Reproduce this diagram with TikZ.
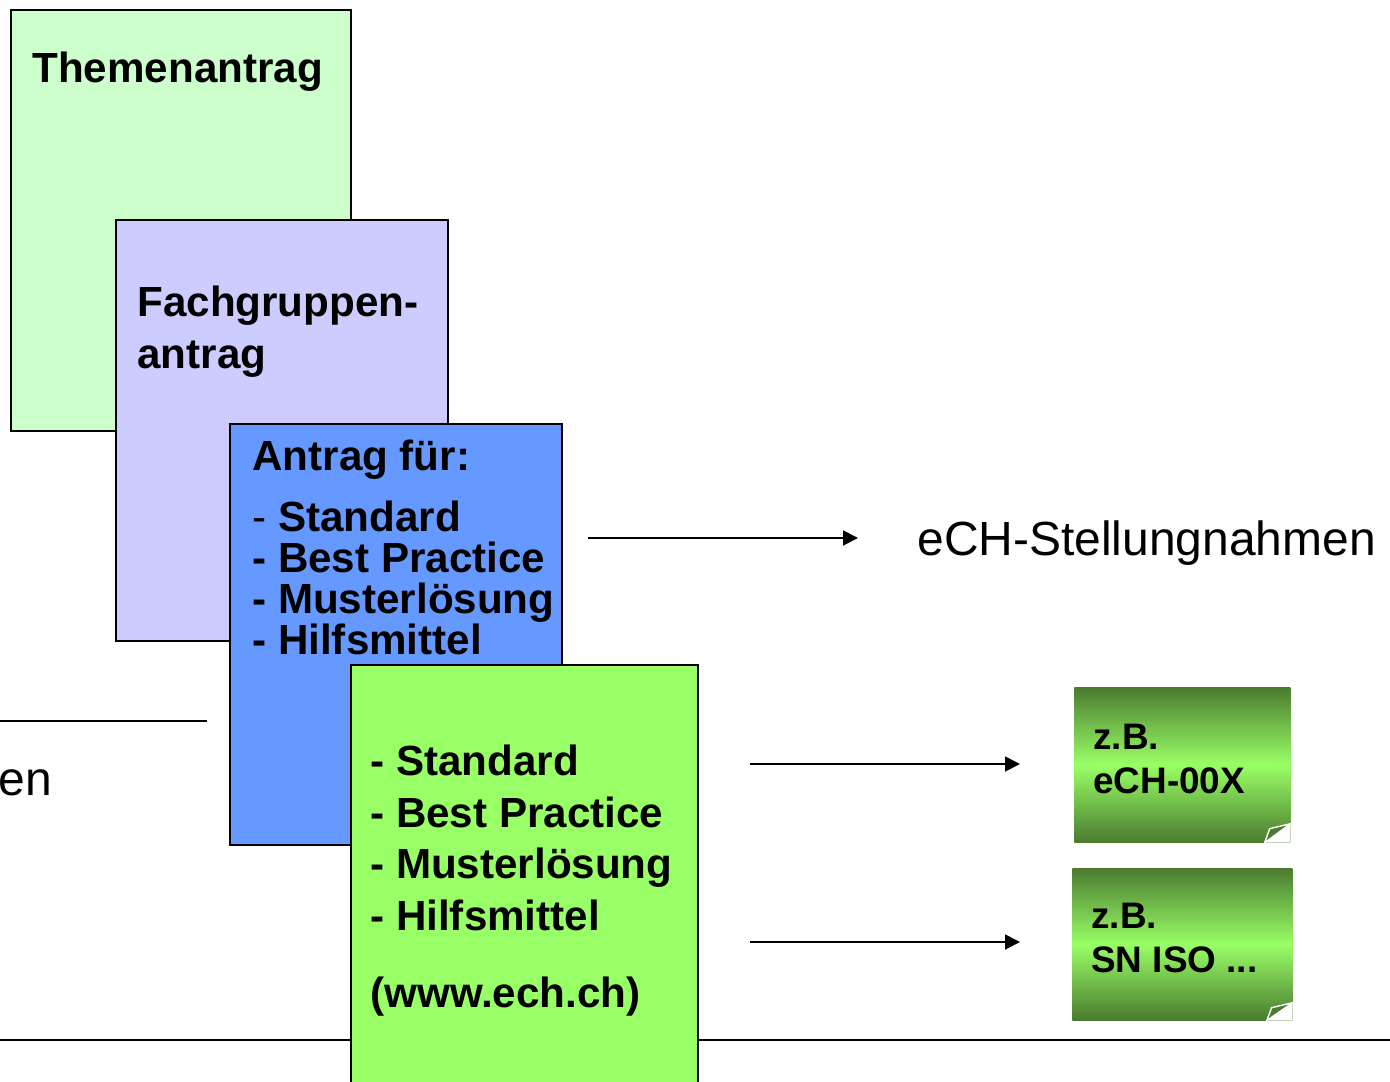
\documentclass[tikz,border=0pt]{standalone}
\usepackage{fontspec}
\setmainfont{Liberation Sans}
\usetikzlibrary{arrows.meta, positioning}
\definecolor{Themenfarbe}{HTML}{CCFFCC}
\definecolor{Fachfarbe}{HTML}{CCCCFF}
\definecolor{Antragfarbe}{HTML}{6699FF}
\definecolor{Ergebnisfarbe}{HTML}{99FF66}
\definecolor{Normdunkel}{HTML}{4B7B30}

\begin{document}
\begin{tikzpicture}[
  x=0.02cm, y=-0.02cm,
  blatt/.style={draw, line width=1.1pt, anchor=north west, inner sep=0pt},
  titel/.style={font=\fontsize{24}{29.5}\selectfont\bfseries,
                anchor=base west, inner sep=0pt, align=left},
  norm/.style={anchor=north west, inner sep=0pt, top color=Normdunkel,
               bottom color=Normdunkel, middle color=Ergebnisfarbe},
  normtext/.style={font=\fontsize{21}{24.5}\selectfont\bfseries,
                   anchor=base west, inner sep=0pt, align=left},
  gross/.style={font=\fontsize{27.3}{32}\selectfont, inner sep=0pt},
  linie/.style={line width=1.1pt},
  pfeil/.style={-{Triangle[length=8.5pt, width=8.5pt]}, line width=1.1pt},
  knick/.style={fill=Normdunkel, draw=white, line width=0.8pt}
]
\useasboundingbox (0,0) rectangle (1390,1082);
\clip (0,0) rectangle (1390,1082);

\coordinate (links1)  at (0,721);
\coordinate (links2)  at (207,721);
\coordinate (unten1)  at (0,1040);
\coordinate (unten2)  at (1390,1040);
\draw[linie] (links1) -- (links2);
\draw[linie] (unten1) -- (unten2);

\node[blatt, fill=Themenfarbe, minimum width=6.8cm, minimum height=8.42cm]
  (thema) at (10,9) {};
\node[blatt, fill=Fachfarbe, minimum width=6.64cm, minimum height=8.42cm]
  (fach) at (115,219) {};
\node[blatt, fill=Antragfarbe, minimum width=6.64cm, minimum height=8.42cm]
  (antrag) at (229,423) {};
\node[blatt, fill=Ergebnisfarbe, minimum width=6.94cm, minimum height=9cm]
  (ergebnis) at (350,664) {};

\node[titel] (thematext) at (32,82) {Themenantrag};
\node[titel] (fachtext) at (137,368) {Fachgruppen-\\antrag};
\node[titel, font=\fontsize{24}{23.3}\selectfont\bfseries] (antragtext) at (252,654)
  {Antrag für:\\[11.4pt]{\mdseries -} Standard\\- Best Practice\\- Musterlösung\\- Hilfsmittel};
\node[titel, font=\fontsize{24}{29.3}\selectfont\bfseries] (ergebnistext) at (370,1007)
  {- Standard\\- Best Practice\\- Musterlösung\\- Hilfsmittel\\[14.5pt](www.ech.ch)};

\node[gross, anchor=base west] (stellung) at (917,555) {eCH-Stellungnahmen};
\node[gross, anchor=base west] (entext) at (-2,795) {en};

\node[norm, minimum width=4.32cm, minimum height=3.1cm] (norm1) at (1074,687) {};
\node[norm, minimum width=4.4cm, minimum height=3.04cm] (norm2) at (1072,868) {};
\fill[white] (norm1.south east) ++(-26,0) -- ++(26,0) -- ++(0,-19) -- cycle;
\draw[knick] (norm1.south east) ++(-26,0) -- ++(5,-14) -- ++(21,-5) -- cycle;
\fill[white] (norm2.south east) ++(-26,0) -- ++(26,0) -- ++(0,-18) -- cycle;
\draw[knick] (norm2.south east) ++(-26,0) -- ++(5,-13) -- ++(21,-5) -- cycle;

\node[normtext] (norm1text) at (1093,793) {z.B.\\eCH-00X};
\node[normtext] (norm2text) at (1091,972) {z.B.\\SN ISO ...};

\coordinate (p1a) at (588,538);
\coordinate (p1b) at (858,538);
\coordinate (p2a) at (750,764);
\coordinate (p2b) at (1020,764);
\coordinate (p3a) at (750,942);
\coordinate (p3b) at (1020,942);
\draw[pfeil] (p1a) -- (p1b);
\draw[pfeil] (p2a) -- (p2b);
\draw[pfeil] (p3a) -- (p3b);
\end{tikzpicture}
\end{document}
